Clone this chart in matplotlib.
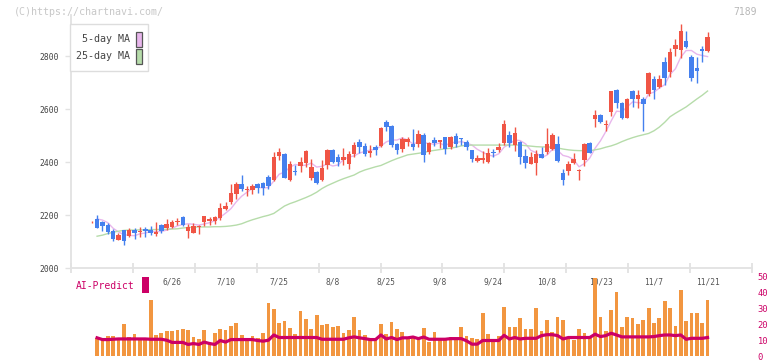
"""Daily candles with 5/25-day MA and AI-Predict panel (7189)."""
import numpy as np
import matplotlib.pyplot as plt
from matplotlib.patches import Rectangle

W, H = 772, 361
nan = np.nan

opens = [2172, 2185, 2174, 2162, 2140, 2107, 2143, 2122, 2145, 2135,
         2148, 2143, 2129, 2162, 2152, 2156, 2173, 2192, 2140, 2133,
         2154, 2175, 2179, 2179, 2187, 2224, 2249, 2280, 2317, 2293,
         2294, 2317, 2321, 2343, 2333, 2423, 2431, 2332, 2365, 2385,
         2395, 2341, 2362, 2333, 2390, 2445, 2419, 2408, 2394, 2430,
         2476, 2460, 2435, 2457, 2460, 2551, 2536, 2468, 2448, 2477,
         2469, 2469, 2502, 2438, 2483, 2477, 2494, 2458, 2498, 2488,
         2476, 2445, 2405, 2409, 2401, 2434, 2445, 2473, 2502, 2464,
         2476, 2423, 2394, 2397, 2430, 2438, 2449, 2468, 2359, 2367,
         2396, 2366, 2409, 2472, 2563, 2577, 2540, 2590, 2672, 2623,
         2567, 2668, 2637, 2638, 2657, 2713, 2685, 2777, 2740, 2828,
         2824, 2857, 2796, 2755, 2826, 2819]
highs = [2176, 2200, 2176, 2171, 2146, 2131, 2145, 2151, 2150, 2154,
         2156, 2158, 2174, 2165, 2185, 2181, 2190, 2196, 2166, 2169,
         2162, 2198, 2192, 2196, 2245, 2249, 2317, 2323, 2351, 2309,
         2317, 2322, 2323, 2351, 2438, 2453, 2435, 2404, 2388, 2418,
         2445, 2410, 2365, 2408, 2448, 2448, 2430, 2453, 2443, 2474,
         2487, 2471, 2465, 2465, 2532, 2559, 2538, 2470, 2493, 2493,
         2525, 2521, 2511, 2476, 2493, 2483, 2496, 2500, 2510, 2490,
         2483, 2447, 2426, 2443, 2453, 2448, 2473, 2559, 2516, 2533,
         2478, 2449, 2438, 2446, 2457, 2528, 2510, 2498, 2374, 2404,
         2434, 2374, 2472, 2476, 2596, 2580, 2559, 2670, 2677, 2625,
         2640, 2673, 2672, 2645, 2740, 2725, 2728, 2796, 2831, 2864,
         2921, 2894, 2803, 2796, 2838, 2891]
lows = [2170, 2150, 2141, 2128, 2102, 2106, 2088, 2118, 2111, 2116,
        2118, 2126, 2122, 2131, 2143, 2150, 2162, 2160, 2113, 2132,
        2129, 2158, 2161, 2165, 2181, 2219, 2240, 2262, 2292, 2273,
        2279, 2282, 2276, 2297, 2328, 2408, 2338, 2328, 2351, 2363,
        2382, 2332, 2316, 2330, 2375, 2396, 2385, 2390, 2375, 2420,
        2435, 2423, 2420, 2428, 2456, 2518, 2458, 2430, 2438, 2460,
        2445, 2458, 2401, 2431, 2461, 2454, 2431, 2450, 2456, 2465,
        2446, 2401, 2400, 2395, 2395, 2420, 2438, 2465, 2457, 2443,
        2394, 2379, 2392, 2352, 2414, 2431, 2445, 2400, 2314, 2352,
        2394, 2333, 2386, 2433, 2533, 2548, 2517, 2575, 2605, 2563,
        2565, 2608, 2605, 2517, 2650, 2639, 2679, 2692, 2722, 2802,
        2794, 2830, 2707, 2700, 2777, 2815]
closes = [2175, 2152, 2158, 2136, 2108, 2125, 2103, 2143, 2133, 2140,
          2141, 2132, 2137, 2141, 2166, 2174, 2177, 2163, 2155, 2158,
          2158, 2196, 2186, 2194, 2225, 2234, 2282, 2317, 2299, 2298,
          2309, 2302, 2302, 2309, 2419, 2438, 2341, 2391, 2364, 2400,
          2442, 2381, 2320, 2378, 2445, 2401, 2401, 2419, 2430, 2465,
          2456, 2430, 2443, 2445, 2528, 2533, 2465, 2445, 2486, 2488,
          2457, 2506, 2428, 2472, 2472, 2483, 2450, 2494, 2469, 2487,
          2458, 2412, 2415, 2415, 2434, 2433, 2457, 2543, 2473, 2510,
          2420, 2397, 2419, 2431, 2416, 2468, 2502, 2405, 2333, 2393,
          2411, 2367, 2468, 2435, 2577, 2552, 2541, 2668, 2624, 2567,
          2638, 2637, 2653, 2620, 2736, 2673, 2713, 2718, 2815, 2842,
          2894, 2834, 2718, 2745, 2820, 2872]

ma5 = [nan, 2185, 2181, 2171, 2150, 2136, 2126, 2123, 2122, 2129,
       2132, 2138, 2137, 2138, 2143, 2150, 2159, 2164, 2167, 2165,
       2162, 2166, 2171, 2178, 2192, 2207, 2224, 2250, 2271, 2286,
       2301, 2305, 2302, 2304, 2328, 2354, 2362, 2380, 2391, 2387,
       2388, 2396, 2381, 2384, 2393, 2385, 2389, 2409, 2419, 2423,
       2434, 2440, 2445, 2448, 2460, 2476, 2483, 2483, 2491, 2483,
       2468, 2476, 2473, 2470, 2467, 2472, 2461, 2474, 2474, 2477,
       2472, 2464, 2448, 2437, 2427, 2422, 2431, 2456, 2468, 2483,
       2481, 2469, 2444, 2435, 2417, 2426, 2447, 2444, 2425, 2420,
       2409, 2382, 2394, 2415, 2452, 2480, 2515, 2555, 2592, 2590,
       2608, 2627, 2624, 2623, 2657, 2664, 2679, 2692, 2731, 2752,
       2796, 2821, 2821, 2807, 2802, 2798]
ma25 = [nan, 2120, 2124, 2130, 2135, 2139, 2142, 2143, 2143, 2144,
        2144, 2145, 2145, 2146, 2146, 2147, 2148, 2151, 2153, 2154,
        2155, 2155, 2155, 2156, 2156, 2157, 2159, 2162, 2167, 2175,
        2182, 2188, 2194, 2199, 2206, 2220, 2234, 2243, 2250, 2258,
        2266, 2275, 2286, 2300, 2311, 2320, 2329, 2337, 2344, 2351,
        2362, 2370, 2376, 2382, 2387, 2396, 2405, 2413, 2420, 2427,
        2430, 2433, 2436, 2441, 2444, 2447, 2450, 2452, 2456, 2461,
        2463, 2464, 2464, 2464, 2464, 2464, 2464, 2464, 2464, 2464,
        2464, 2462, 2460, 2458, 2457, 2457, 2456, 2453, 2449, 2446,
        2444, 2443, 2443, 2443, 2446, 2450, 2456, 2461, 2468, 2477,
        2485, 2492, 2498, 2503, 2508, 2518, 2532, 2550, 2571, 2584,
        2596, 2608, 2623, 2638, 2652, 2668]

date_labels = ["6/26", "7/10", "7/25", "8/8", "8/25", "9/8", "9/24",
               "10/8", "10/23", "11/7", "11/21"]
date_pos = [15, 25, 35, 45, 55, 65, 75, 85, 95, 105, 115]
price_ticks = [2000, 2200, 2400, 2600, 2800]

# AI-Predict panel, one value per session from the 2nd candle on
ai_bars = [11.3, 10.2, 12.5, 12.5, 10.2, 20.0, 11.9, 13.8, 11.7, 11.3,
           35.6, 13.1, 14.4, 15.8, 15.8, 16.7, 17.1, 16.5, 11.9, 10.6,
           16.5, 8.8, 14.4, 17.1, 16.5, 19.0, 20.6, 13.3, 11.3, 12.5,
           11.5, 14.4, 33.3, 29.6, 20.8, 22.1, 17.5, 13.8, 28.3, 23.3,
           17.1, 25.8, 19.6, 20.2, 18.3, 19.0, 14.6, 16.5, 24.6, 16.5,
           13.3, 11.3, 10.8, 20.0, 13.9, 21.5, 17.1, 15.0, 11.3, 11.3,
           10.2, 17.5, 8.8, 15.0, 11.3, 10.2, 11.9, 11.3, 18.5, 12.5,
           11.3, 10.8, 27.5, 13.8, 10.8, 12.5, 31.2, 18.5, 18.5, 23.8,
           16.9, 16.9, 30.6, 15.8, 22.5, 15.0, 25.0, 23.1, 11.0, 10.2,
           16.9, 14.4, 12.9, 49.4, 25.0, 15.8, 29.4, 40.6, 18.1, 24.4,
           23.8, 20.0, 23.1, 30.6, 21.2, 23.8, 35.0, 30.6, 18.8, 41.9,
           22.1, 27.5, 27.5, 21.2, 35.6]
ai_line = [11.5, 10.4, 10.4, 10.6, 10.8, 10.8, 10.8, 10.8, 10.8, 10.8,
           10.6, 10.6, 10.6, 10.0, 8.6, 8.6, 8.6, 7.3, 7.9, 7.3,
           8.8, 7.9, 7.3, 9.8, 8.8, 10.4, 10.4, 10.4, 10.4, 10.4,
           9.8, 9.4, 10.0, 13.3, 11.7, 11.7, 11.7, 11.7, 11.7, 11.7,
           11.7, 11.7, 10.6, 10.6, 10.6, 10.6, 10.6, 11.5, 12.1, 11.5,
           11.0, 10.4, 10.4, 13.3, 10.8, 11.7, 10.4, 11.5, 11.5, 12.0,
           11.0, 12.0, 10.6, 10.6, 10.6, 10.6, 11.0, 11.0, 11.0, 9.6,
           7.5, 7.5, 9.8, 9.8, 9.8, 9.8, 13.1, 10.8, 11.7, 10.8,
           11.2, 11.2, 11.2, 12.9, 13.5, 13.5, 12.9, 10.8, 11.7, 11.7,
           11.7, 11.7, 11.7, 13.8, 12.3, 12.9, 14.4, 13.3, 12.1, 12.1,
           12.1, 12.1, 12.1, 12.1, 12.3, 12.9, 13.3, 13.3, 12.9, 13.3,
           10.6, 11.2, 11.2, 11.2, 11.7]
ai_ticks = [0, 10, 20, 30, 40, 50]

UP, DOWN = "#f05545", "#4580ee"
PINK, GREEN = "#e8b6ec", "#b6dcaa"
CRIMSON, ORANGE = "#cc0066", "#f29640"
GRID = "#e2e2e2"


def fx(px):
    return px / W


def fy(py):
    return 1 - py / H


plt.rcParams["font.family"] = ["DejaVu Sans Mono"]
fig = plt.figure(figsize=(W / 100, H / 100), dpi=100)

XLIM = (-3.87, 123.3)

# ---- price panel
ax = fig.add_axes([fx(71), fy(268), fx(752) - fx(71), fy(15) - fy(268)])
ax.set_xlim(*XLIM)
ax.set_ylim(2000, 2955)

o = np.array(opens, float)
c = np.array(closes, float)
x = np.arange(len(o))
col = np.where(c >= o, UP, DOWN)
ax.vlines(x, lows, highs, colors=col, lw=1.0, zorder=2)
body = np.maximum(np.abs(c - o), 3)
ax.bar(x, body, bottom=np.minimum(o, c), width=0.84, color=col,
       linewidth=0, zorder=3)
ax.plot(x, ma5, color=PINK, lw=1.0, zorder=1)
ax.plot(x, ma25, color=GREEN, lw=1.0, zorder=1)

for s in ["top", "right"]:
    ax.spines[s].set_visible(False)
for s in ["left", "bottom"]:
    ax.spines[s].set_color(GRID)
    ax.spines[s].set_linewidth(1.3)
ax.set_yticks(price_ticks)
ax.tick_params(axis="y", length=4.5, width=1, color=GRID, pad=4,
               labelsize=5.8, labelcolor="#444444")
ax.set_xticks(np.linspace(XLIM[0], XLIM[1], 12))
ax.set_xticklabels([])
ax.tick_params(axis="x", direction="inout", length=6.5, width=1.3, color=GRID)

# ---- AI-Predict panel
ax2 = fig.add_axes([fx(71), fy(356), fx(752) - fx(71), fy(277) - fy(356)])
ax2.set_xlim(*XLIM)
ax2.set_ylim(0, 50)
ax2.patch.set_alpha(0)
xb = np.arange(1, len(ai_bars) + 1)
ax2.bar(xb, ai_bars, width=0.7, color=ORANGE, linewidth=0, zorder=2)
ax2.plot(xb, ai_line, color=CRIMSON, lw=2.3, zorder=3)
for s in ax2.spines.values():
    s.set_visible(False)
ax2.set_xticks([])
ax2.yaxis.tick_right()
ax2.set_yticks(ai_ticks)
ax2.tick_params(axis="y", length=0, pad=4, labelsize=6.3, labelcolor=CRIMSON)
for p, lab in zip(date_pos, date_labels):
    ax2.text(p, 46.8, lab, ha="center", va="center", fontsize=5.7,
             color="#555555", zorder=1)

# ---- decorations
fig.text(fx(14), fy(12), "(C)https://chartnavi.com/", fontsize=7.2,
         color="#c8c8c8", va="center", ha="left")
fig.text(fx(757), fy(12), "7189", fontsize=7, color="#b8b8b8",
         va="center", ha="right")

fig.add_artist(Rectangle((fx(70), fy(71)), fx(148) - fx(70), fy(24) - fy(71),
                         transform=fig.transFigure, facecolor="white",
                         edgecolor="#dddddd", lw=1, zorder=5))
for yy, lab, colr in [(39, "5-day MA", PINK), (56, "25-day MA", GREEN)]:
    fig.text(fx(130), fy(yy), lab, fontsize=7.2, color="#444444",
             ha="right", va="center", zorder=6)
    fig.add_artist(Rectangle((fx(136), fy(yy + 8)), fx(6), fy(0) - fy(15),
                             transform=fig.transFigure, facecolor=colr,
                             edgecolor="#555555", lw=0.9, zorder=6))

fig.text(fx(76), fy(286), "AI-Predict", fontsize=7, color=CRIMSON,
         ha="left", va="center")
fig.add_artist(Rectangle((fx(142), fy(293)), fx(7), fy(0) - fy(16),
                         transform=fig.transFigure, facecolor=CRIMSON,
                         edgecolor="none", zorder=5))

fig.savefig("out.png", dpi=100)
